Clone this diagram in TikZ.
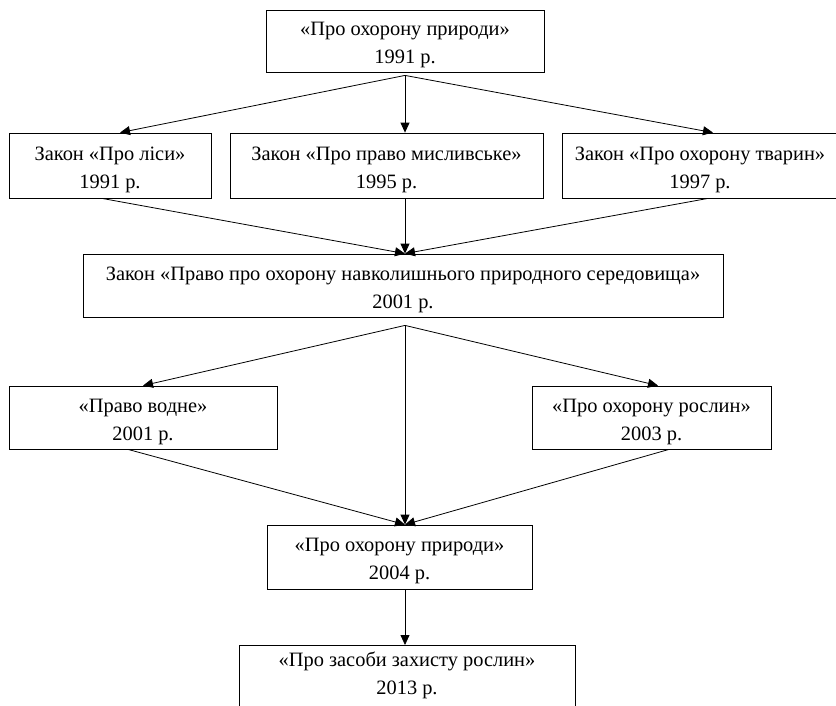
\documentclass[tikz,border=0pt]{standalone}
\usepackage{fontspec}
\setmainfont{Liberation Serif}
\usetikzlibrary{arrows.meta}
\newcommand{\lineup}{\rule{0pt}{22pt}}
\begin{document}
\begin{tikzpicture}[x=1pt,y=-1pt,
  box/.style={draw=black, line width=0.8pt, align=center, inner sep=0pt,
    font=\fontsize{20.4}{28}\selectfont},
  conn/.style={draw=black, line width=0.8pt},
  arr/.style={conn, -{Triangle[length=10pt,width=9pt]}}]
\useasboundingbox (0,0) rectangle (836,705);
\clip (0,0) rectangle (836,705);
\fill[white] (0,0) rectangle (836,705);
% nodes
\node[box, minimum width=278pt, minimum height=62pt] (top) at (405,41) {\lineup«Про охорону природи»\\1991 р.};
\node[box, minimum width=202pt, minimum height=65pt] (A) at (110,165.5) {\lineup Закон «Про ліси»\\1991 р.};
\node[box, minimum width=313pt, minimum height=65pt] (B) at (386.5,165.5) {\lineup Закон «Про право мисливське»\\1995 р.};
\node[box, minimum width=276pt, minimum height=65pt] (C) at (700,165.5) {\lineup Закон «Про охорону тварин»\\1997 р.};
\node[box, minimum width=640pt, minimum height=63pt] (D) at (403,285.5) {\lineup Закон «Право про охорону навколишнього природного середовища»\\2001 р.};
\node[box, minimum width=268pt, minimum height=63pt] (E) at (143,417.5) {\lineup«Право водне»\\2001 р.};
\node[box, minimum width=239pt, minimum height=63pt] (F) at (651.5,417.5) {\lineup«Про охорону рослин»\\2003 р.};
\node[box, minimum width=265pt, minimum height=64pt] (G) at (399.5,557) {\lineup«Про охорону природи»\\2004 р.};
\node[box, minimum width=336pt, inner ysep=0pt, anchor=north] (H) at (407,645) {\rule{0pt}{21pt}«Про засоби захисту рослин»\\2013 р.\\ \strut\\ \strut};
% fork points
\coordinate (f1) at ([yshift=-3pt]top.south);
\coordinate (f2) at ([xshift=2pt,yshift=-8pt]D.south);
% connectors
\draw[arr] (f1) -- ([xshift=10pt]A.north);
\draw[arr] (f1) -- ([xshift=18.5pt]B.north);
\draw[arr] (f1) -- ([xshift=13pt]C.north);
\draw[arr] ([xshift=-8pt]A.south) -- ([xshift=2pt]D.north);
\draw[arr] ([xshift=18.5pt]B.south) -- ([xshift=2pt]D.north);
\draw[arr] ([xshift=8pt]C.south) -- ([xshift=2pt]D.north);
\draw[arr] (f2) -- (E.north);
\draw[arr] (f2) -- ([xshift=6.5pt]F.north);
\draw[arr] (f2) -- ([xshift=5.5pt]G.north);
\draw[arr] ([xshift=-15pt]E.south) -- ([xshift=5.5pt]G.north);
\draw[arr] ([xshift=17.5pt]F.south) -- ([xshift=5.5pt]G.north);
\draw[arr] ([xshift=5.5pt]G.south) -- ([xshift=-2pt]H.north);
\end{tikzpicture}
\end{document}
